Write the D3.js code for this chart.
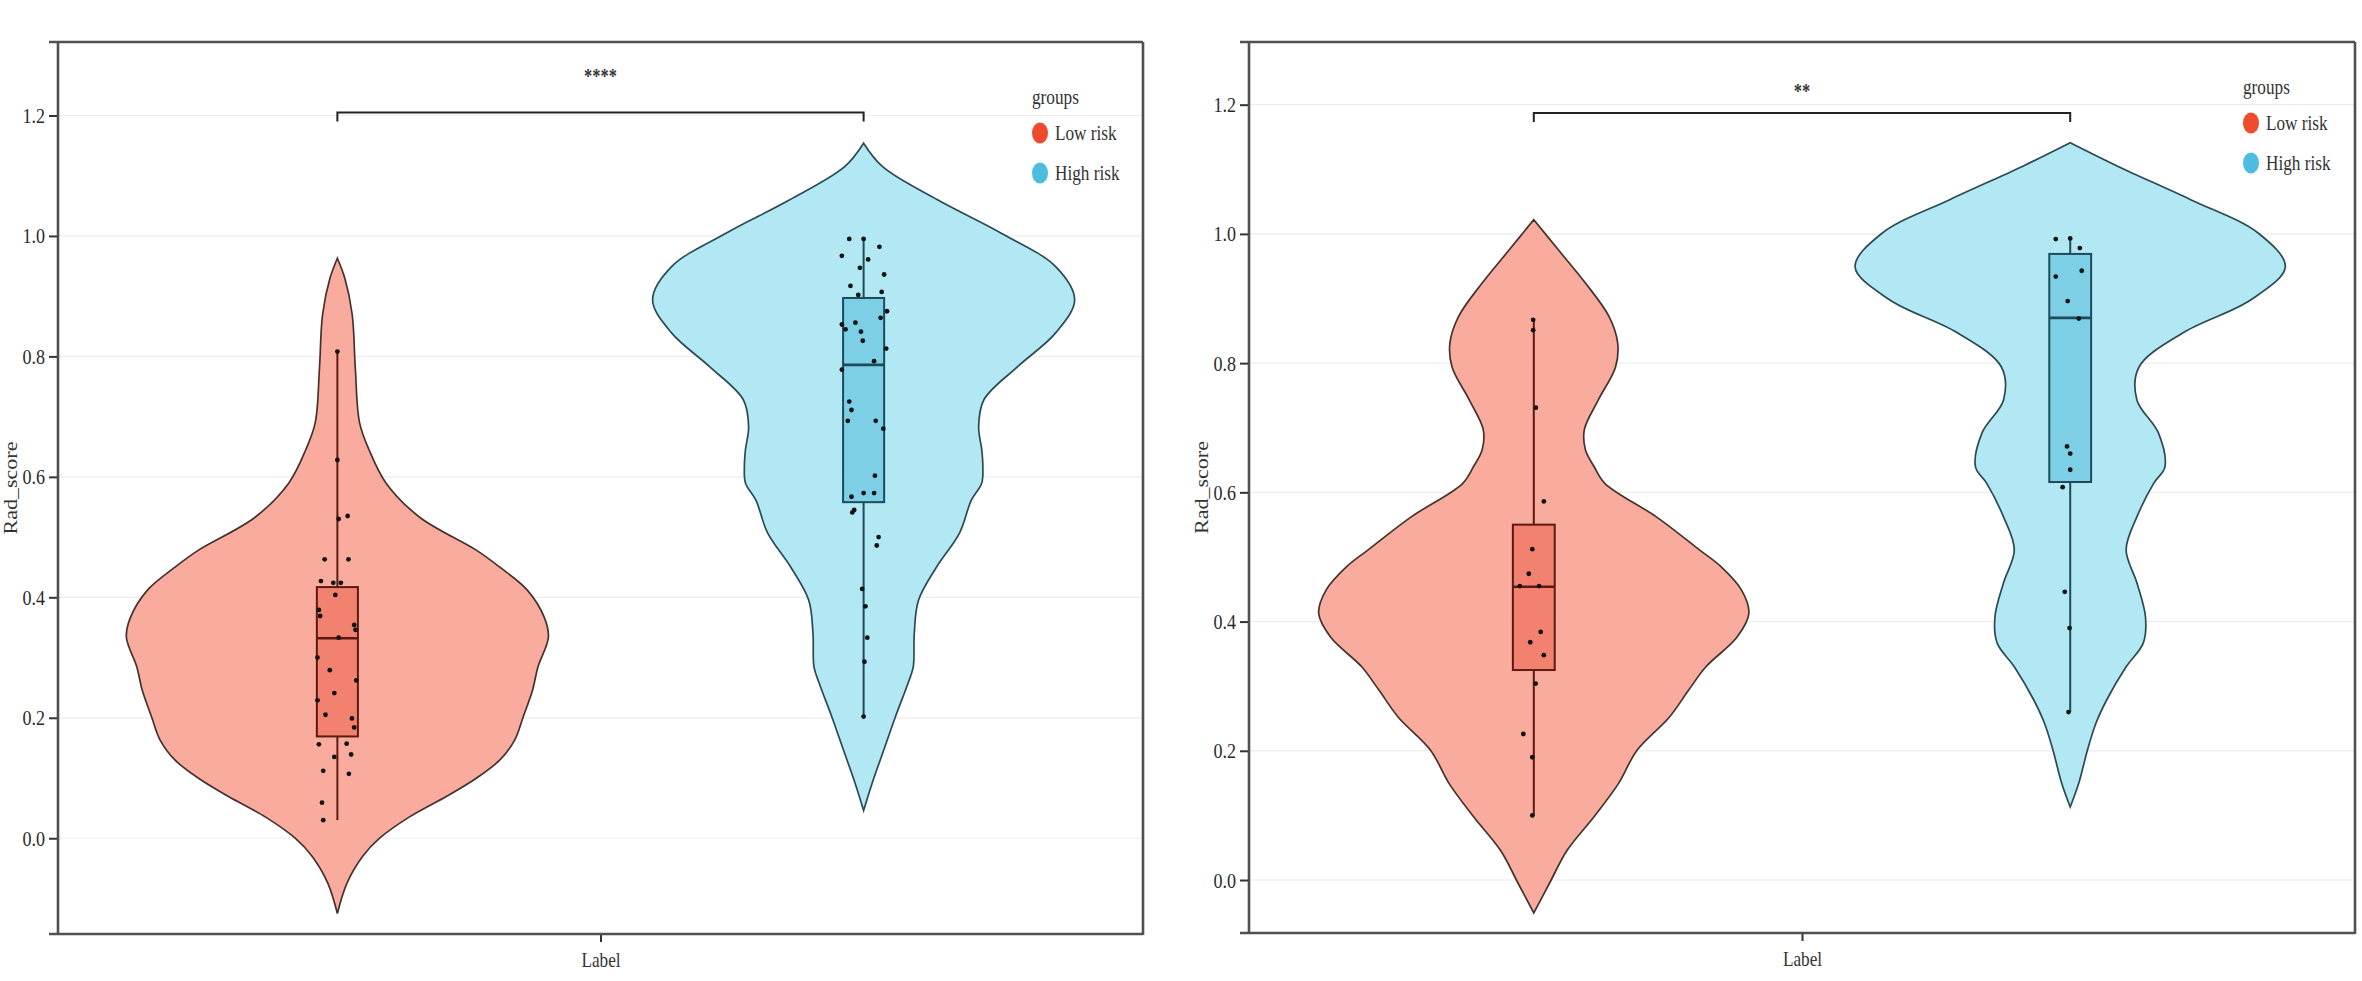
<!DOCTYPE html>
<html><head><meta charset="utf-8">
<script src="https://cdn.jsdelivr.net/npm/d3@7"></script>
<style>html,body{margin:0;padding:0;background:#fff;} svg{display:block;}</style>
</head><body>
<svg id="chart" width="2362" height="981"></svg>
<script>
// ---------------- DATA ----------------
const category = ["Label"];
const groups = ["Low risk", "High risk"];
const yTicksA = [0, 0.2, 0.4, 0.6, 0.8, 1.0, 1.2];
const yTicksB = [0, 0.2, 0.4, 0.6, 0.8, 1.0, 1.2];
const sigLabels = ["****", "**"];
const bracketValues = [1.205, 1.187];

// violin outlines: [Rad_score, relative half-width]
const violinA_low = [[0.963,0],[0.93,0.035],[0.87,0.07],[0.78,0.085],[0.69,0.105],[0.645,0.15],[0.59,0.23],[0.533,0.39],[0.478,0.66],[0.45,0.77],[0.412,0.9],[0.367,0.98],[0.334,1.0],[0.284,0.95],[0.246,0.925],[0.201,0.88],[0.163,0.84],[0.13,0.77],[0.1,0.66],[0.07,0.52],[0.035,0.34],[0.0,0.2],[-0.03,0.12],[-0.075,0.045],[-0.125,0]];
const violinA_high = [[1.154,0],[1.115,0.09],[1.06,0.35],[1.005,0.65],[0.949,0.91],[0.894,1.0],[0.839,0.91],[0.783,0.73],[0.728,0.57],[0.683,0.545],[0.645,0.56],[0.617,0.565],[0.59,0.56],[0.561,0.51],[0.507,0.455],[0.45,0.345],[0.395,0.26],[0.34,0.24],[0.284,0.235],[0.257,0.21],[0.201,0.15],[0.146,0.095],[0.091,0.04],[0.046,0]];
const violinB_low = [[1.022,0],[0.975,0.115],[0.924,0.24],[0.872,0.35],[0.831,0.39],[0.794,0.38],[0.743,0.30],[0.697,0.235],[0.666,0.24],[0.64,0.28],[0.614,0.33],[0.562,0.57],[0.511,0.77],[0.485,0.87],[0.449,0.965],[0.413,1.0],[0.376,0.945],[0.33,0.80],[0.294,0.72],[0.252,0.63],[0.201,0.48],[0.15,0.395],[0.098,0.28],[0.046,0.155],[-0.005,0.073],[-0.051,0]];
const violinB_high = [[1.141,0],[1.104,0.225],[1.053,0.56],[1.001,0.875],[0.949,1.0],[0.898,0.84],[0.847,0.525],[0.794,0.32],[0.743,0.31],[0.692,0.41],[0.639,0.44],[0.615,0.39],[0.562,0.31],[0.511,0.26],[0.46,0.31],[0.407,0.35],[0.367,0.34],[0.33,0.26],[0.279,0.17],[0.243,0.12],[0.201,0.08],[0.15,0.04],[0.113,0]];

// box stats: [lower whisker, Q1, median, Q3, upper whisker]
const boxA_low = [0.030, 0.169, 0.332, 0.417, 0.808];
const boxA_high = [0.201, 0.558, 0.786, 0.897, 0.998];
const boxB_low = [0.099, 0.325, 0.454, 0.550, 0.867];
const boxB_high = [0.260, 0.616, 0.870, 0.969, 0.995];

// jittered points: [jitter (fraction of box half-width), Rad_score]
const pointsA_low = [[0,0.808],[0,0.628],[0.06,0.530],[0.5,0.535],[-0.62,0.463],[0.54,0.463],[-0.8,0.427],[-0.2,0.424],[0.17,0.424],[-0.1,0.404],[-0.9,0.379],[-0.84,0.369],[0.82,0.354],[0.88,0.346],[0.06,0.333],[-0.97,0.300],[-0.37,0.279],[0.92,0.262],[-0.15,0.241],[-0.97,0.229],[-0.58,0.205],[0.71,0.199],[0.82,0.184],[-0.9,0.156],[0.45,0.157],[-0.15,0.135],[0.67,0.139],[-0.69,0.112],[0.56,0.107],[-0.75,0.059],[-0.69,0.030]];
const pointsA_high = [[-0.7,0.995],[0,0.995],[0.77,0.982],[-1.06,0.967],[0.22,0.961],[-0.18,0.947],[1.0,0.936],[-0.64,0.917],[0.88,0.907],[-0.26,0.902],[1.14,0.875],[0.83,0.864],[-1.06,0.853],[-0.4,0.856],[-0.88,0.845],[-0.13,0.841],[-0.04,0.826],[1.1,0.813],[0.51,0.792],[-1.06,0.778],[-0.7,0.725],[-0.59,0.711],[-0.77,0.693],[0.59,0.693],[0.96,0.680],[0.55,0.602],[0,0.573],[0.51,0.573],[-0.59,0.567],[-0.46,0.545],[-0.55,0.541],[0.73,0.500],[0.64,0.486],[-0.07,0.414],[0.09,0.385],[0.18,0.333],[0.04,0.293],[0,0.202]];
const pointsB_low = [[-0.03,0.867],[-0.03,0.851],[0.1,0.731],[0.48,0.586],[-0.07,0.512],[-0.24,0.474],[-0.67,0.455],[0.25,0.455],[0.33,0.384],[-0.17,0.368],[0.48,0.348],[0.09,0.304],[-0.5,0.226],[-0.07,0.190],[-0.07,0.100]];
const pointsB_high = [[-0.69,0.992],[0,0.993],[0.46,0.978],[-0.69,0.934],[0.55,0.943],[-0.12,0.896],[0.41,0.869],[-0.15,0.671],[0,0.660],[0,0.635],[-0.36,0.608],[-0.26,0.446],[-0.03,0.390],[-0.08,0.260]];

// ---------------- STYLE / LAYOUT ----------------
const fillViolin = {"Low risk": "#F9A697", "High risk": "#ACE5F3"};
const strokeViolin = {"Low risk": "#45322e", "High risk": "#2b4a53"};
const fillBox = {"Low risk": "#F2826F", "High risk": "#7DCFE6"};
const strokeBox = {"Low risk": "#5C1A10", "High risk": "#1E4B5A"};
const keyColor = {"Low risk": "#EE4B2F", "High risk": "#4CBDE1"};
const FONT = "'Liberation Serif', 'Times New Roman', serif";
const SX = 0.82; // horizontal squeeze of the source figure

const panels = [
  {left: 58, right: 1143, top: 42, bottom: 934, yMin: -0.159, yMax: 1.322, ticks: yTicksA,
   violins: [violinA_low, violinA_high], boxes: [boxA_low, boxA_high], points: [pointsA_low, pointsA_high],
   sig: sigLabels[0], bracket: bracketValues[0], sigOffset: 36, legendX: 1032, legendY: 98},
  {left: 1249, right: 2355, top: 42, bottom: 933, yMin: -0.082, yMax: 1.297, ticks: yTicksB,
   violins: [violinB_low, violinB_high], boxes: [boxB_low, boxB_high], points: [pointsB_low, pointsB_high],
   sig: sigLabels[1], bracket: bracketValues[1], sigOffset: 22, legendX: 2243, legendY: 88}
];

const svg = d3.select("#chart");

function sqText(sel, x, y) {
  return sel.attr("transform", `translate(${x},${y}) scale(${SX},1)`);
}

panels.forEach(cfg => {
  const g = svg.append("g");
  const y = d3.scaleLinear().domain([cfg.yMin, cfg.yMax]).range([cfg.bottom, cfg.top]);
  const x = d3.scaleLinear().domain([0.4, 1.6]).range([cfg.left, cfg.right]);
  const catPos = d3.scalePoint().domain(category).range([1, 1]);
  const dodge = d3.scaleOrdinal().domain(groups).range([-0.291, 0.291]);
  const unit = x(1) - x(0);
  const w = d3.scaleLinear().domain([0, 1]).range([0, 0.2334 * unit]);
  const boxHalf = 0.0227 * unit;
  const xc = grp => x(catPos("Label") + dodge(grp));

  // grid
  g.append("g").selectAll("line").data(cfg.ticks).join("line")
    .attr("x1", cfg.left).attr("x2", cfg.right)
    .attr("y1", d => y(d)).attr("y2", d => y(d))
    .attr("stroke", "#ededed").attr("stroke-width", 1.2);

  groups.forEach((grp, i) => {
    const cx = xc(grp);
    const area = d3.area().curve(d3.curveCatmullRom.alpha(0.5))
      .y(d => y(d[0])).x0(d => cx - w(d[1])).x1(d => cx + w(d[1]));
    g.append("path").datum(cfg.violins[i]).attr("d", area)
      .attr("fill", fillViolin[grp]).attr("fill-opacity", 0.93)
      .attr("stroke", strokeViolin[grp]).attr("stroke-width", 1.7);

    const b = cfg.boxes[i];
    g.append("line").attr("x1", cx).attr("x2", cx).attr("y1", y(b[0])).attr("y2", y(b[1]))
      .attr("stroke", strokeBox[grp]).attr("stroke-width", 2);
    g.append("line").attr("x1", cx).attr("x2", cx).attr("y1", y(b[3])).attr("y2", y(b[4]))
      .attr("stroke", strokeBox[grp]).attr("stroke-width", 2);
    g.append("rect").attr("x", cx - boxHalf).attr("width", 2 * boxHalf)
      .attr("y", y(b[3])).attr("height", y(b[1]) - y(b[3]))
      .attr("fill", fillBox[grp]).attr("stroke", strokeBox[grp]).attr("stroke-width", 2);
    g.append("line").attr("x1", cx - boxHalf).attr("x2", cx + boxHalf)
      .attr("y1", y(b[2])).attr("y2", y(b[2]))
      .attr("stroke", strokeBox[grp]).attr("stroke-width", 2.6);

    g.append("g").selectAll("circle").data(cfg.points[i]).join("circle")
      .attr("cx", d => cx + d[0] * boxHalf).attr("cy", d => y(d[1]))
      .attr("r", 2.4).attr("fill", "#141414");
  });

  // significance bracket
  const xl = xc(groups[0]), xh = xc(groups[1]), yb = y(cfg.bracket);
  g.append("path").attr("d", `M${xl},${yb + 9}V${yb}H${xh}V${yb + 9}`)
    .attr("fill", "none").attr("stroke", "#222").attr("stroke-width", 2);
  sqText(g.append("text"), x(1), yb - cfg.sigOffset + 7)
    .attr("text-anchor", "middle").attr("font-family", FONT).attr("font-size", 20)
    .attr("font-weight", "bold").attr("fill", "#333").text(cfg.sig);

  // axes
  const ay = g.append("g").attr("transform", `translate(${cfg.left},0)`)
    .call(d3.axisLeft(y).tickValues(cfg.ticks).tickFormat(d3.format(".1f")).tickSize(9).tickSizeOuter(0));
  ay.select(".domain").remove();
  ay.selectAll(".tick line").attr("stroke", "#333").attr("stroke-width", 2);
  ay.selectAll(".tick text").attr("font-family", FONT).attr("font-size", 22).attr("fill", "#2a2a2a")
    .attr("x", -13 / SX).attr("transform", `scale(${SX},1)`);

  const ax = g.append("g").attr("transform", `translate(0,${cfg.bottom})`)
    .call(d3.axisBottom(x).tickValues([catPos("Label")]).tickFormat(() => category[0]).tickSize(8).tickPadding(10).tickSizeOuter(0));
  ax.select(".domain").remove();
  ax.selectAll(".tick line").attr("stroke", "#333").attr("stroke-width", 2);
  ax.selectAll(".tick text").attr("font-family", FONT).attr("font-size", 21).attr("fill", "#333")
    .attr("transform", `scale(${SX},1)`);

  // frame
  const fr = g.append("g").attr("stroke", "#505050").attr("stroke-width", 2.6).attr("fill", "none");
  fr.append("line").attr("x1", cfg.left - 9).attr("x2", cfg.right).attr("y1", cfg.top).attr("y2", cfg.top);
  fr.append("line").attr("x1", cfg.left - 9).attr("x2", cfg.right).attr("y1", cfg.bottom).attr("y2", cfg.bottom);
  fr.append("line").attr("x1", cfg.left).attr("x2", cfg.left).attr("y1", cfg.top).attr("y2", cfg.bottom);
  fr.append("line").attr("x1", cfg.right).attr("x2", cfg.right).attr("y1", cfg.top).attr("y2", cfg.bottom + 1);

  // y title
  g.append("text")
    .attr("transform", `translate(${cfg.left - 41},${(cfg.top + cfg.bottom) / 2}) scale(${SX},1) rotate(-90)`)
    .attr("text-anchor", "middle").attr("font-family", FONT).attr("font-size", 22).attr("fill", "#333")
    .text("Rad_score");

  // legend
  const lg = g.append("g");
  sqText(lg.append("text"), cfg.legendX, cfg.legendY + 6)
    .attr("font-family", FONT).attr("font-size", 21).attr("fill", "#333").text("groups");
  groups.forEach((grp, i) => {
    const yy = cfg.legendY + 35 + i * 40;
    lg.append("ellipse").attr("cx", cfg.legendX + 8).attr("cy", yy).attr("rx", 8).attr("ry", 10.5)
      .attr("fill", keyColor[grp]);
    sqText(lg.append("text"), cfg.legendX + 23, yy + 7)
      .attr("font-family", FONT).attr("font-size", 21).attr("fill", "#333").text(grp);
  });
});
</script>
</body></html>
